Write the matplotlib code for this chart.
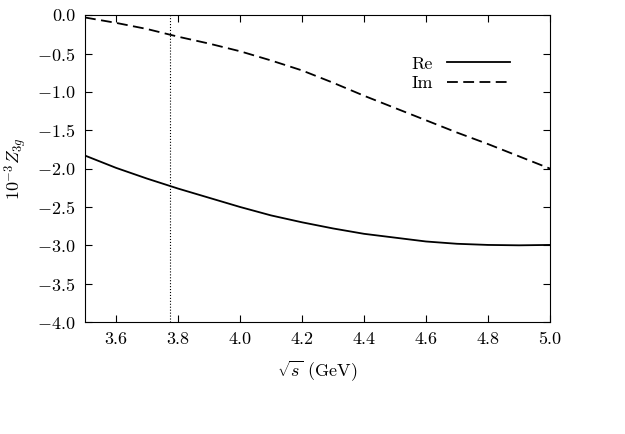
import numpy as np
import matplotlib
matplotlib.use("Agg")
import matplotlib.pyplot as plt

plt.rcParams['font.family'] = 'serif'
plt.rcParams['font.serif'] = ['cmr10']
plt.rcParams['mathtext.fontset'] = 'cm'
plt.rcParams['axes.formatter.use_mathtext'] = True
plt.rcParams['font.size'] = 13

sqrt_s = [3.5, 3.6, 3.7, 3.8, 3.9, 4.0, 4.1, 4.2, 4.3, 4.4, 4.5, 4.6, 4.7, 4.8, 4.9, 5.0]
re_vals = [-1.83, -1.99, -2.13, -2.26, -2.38, -2.50, -2.61, -2.70, -2.78, -2.85, -2.90, -2.95, -2.98, -2.995, -3.0, -2.995]
im_vals = [-0.03, -0.10, -0.18, -0.28, -0.37, -0.47, -0.59, -0.72, -0.88, -1.05, -1.21, -1.37, -1.53, -1.68, -1.84, -2.0]
vline_x = 3.773

fig = plt.figure(figsize=(6.25, 4.34), dpi=100)
ax = fig.add_axes([0.136, 0.258, 0.744, 0.707])
ax.plot(sqrt_s, re_vals, 'k-', lw=1.3, label='Re')
ax.plot(sqrt_s, im_vals, 'k--', lw=1.3, dashes=(6, 3), label='Im')
ax.axvline(vline_x, color='k', ls=':', lw=0.8)
ax.set_xlim(3.5, 5.0)
ax.set_ylim(-4.0, 0.0)
xt = np.arange(3.6, 5.01, 0.2)
yt = np.arange(-4.0, 0.01, 0.5)
ax.set_xticks(xt)
ax.set_yticks(yt)
ax.set_xticklabels([f"{v:.1f}" for v in xt])
ax.set_yticklabels([f"$-{abs(v):.1f}$" if v < -0.01 else "0.0" for v in yt])
ax.tick_params(direction='in', top=True, right=True, length=5, pad=7)
ax.set_xlabel(r'$\sqrt{s}$ (GeV)', labelpad=8)
ax.set_ylabel(r'$10^{-3}Z_{3g}$', labelpad=6)
ax.legend(loc='upper right', bbox_to_anchor=(0.95, 0.92), frameon=False, markerfirst=False, handlelength=3.5, labelspacing=0.2)
fig.savefig('out.png', dpi=100)
